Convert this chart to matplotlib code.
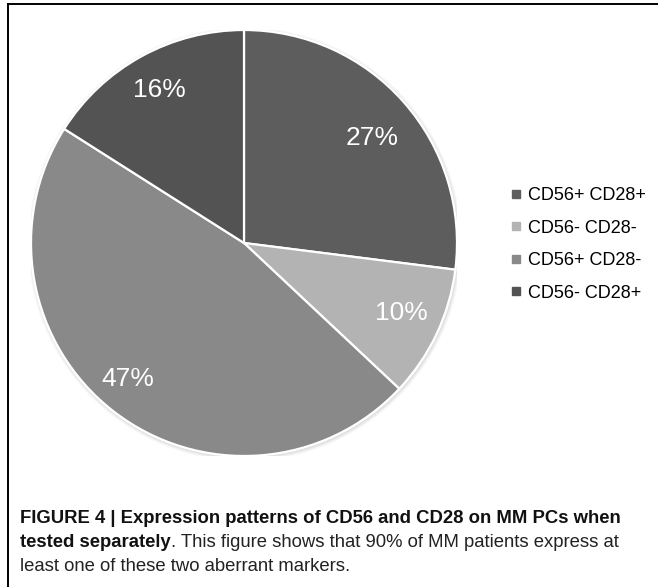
import numpy as np
import matplotlib
matplotlib.use("Agg")
import matplotlib.pyplot as plt
from matplotlib.lines import Line2D
from matplotlib.patches import Circle

labels = ["CD56+ CD28+", "CD56- CD28-", "CD56+ CD28-", "CD56- CD28+"]
shares = [27, 10, 47, 16]
colors = ["#5d5d5d", "#b3b3b3", "#898989", "#535353"]
# where each percentage sits: fraction of radius, and a small angular nudge (deg)
lab_dist = [0.78, 0.81, 0.84, 0.82]
lab_nudge = [-2.0, 1.3, -2.5, 0.0]

caption_bold1 = "FIGURE 4 | Expression patterns of CD56 and CD28 on MM PCs when"
caption_bold2 = "tested separately"
caption_rest2 = ". This figure shows that 90% of MM patients express at"
caption_line3 = "least one of these two aberrant markers."

plt.rcParams["font.family"] = ["Liberation Sans", "DejaVu Sans"]

W, H = 658, 587
fig = plt.figure(figsize=(W / 100, H / 100), dpi=100)

# pie axes: centre (244, 243) px, radius 213 px
cx, cy, R = 244, 243, 213
ax = fig.add_axes([(cx - R) / W, (H - cy - R) / H, 2 * R / W, 2 * R / H])
ax.axis("off")

# soft halo around the pie
for k, a in enumerate([0.10, 0.08, 0.05]):
    ax.add_patch(Circle((0.004, -0.006), 1.006 + 0.006 * k, color="#777777",
                        alpha=a, lw=0, zorder=0))

wedges, _ = ax.pie(shares, colors=colors, startangle=90, counterclock=False,
                   radius=1.0, wedgeprops=dict(edgecolor="white", linewidth=1.6),
                   frame=False)
ax.set_xlim(-1, 1)
ax.set_ylim(-1, 1)
ax.set_aspect("auto")

for w, s, d, n in zip(wedges, shares, lab_dist, lab_nudge):
    mid = np.deg2rad((w.theta1 + w.theta2) / 2 + n)
    ax.text(d * np.cos(mid), d * np.sin(mid), "%d%%" % s, color="white",
            fontsize=19, ha="center", va="center")

handles = [Line2D([], [], marker="s", linestyle="none", markersize=5.5,
                  markerfacecolor=c, markeredgecolor=c) for c in colors]
fig.legend(handles, labels, loc="upper left", bbox_to_anchor=(511 / W, 1 - 187 / H),
           frameon=False, fontsize=13, handlelength=0.6, handletextpad=0.35,
           labelspacing=0.86, borderpad=0, borderaxespad=0)

# frame lines (top and left)
fig.add_artist(Line2D([8 / W, 1], [1 - 4 / H, 1 - 4 / H], color="black", lw=1.4,
                      transform=fig.transFigure))
fig.add_artist(Line2D([8 / W, 8 / W], [1 - 4 / H, 0], color="black", lw=1.4,
                      transform=fig.transFigure))

# caption
cap_font = ["Liberation Sans Narrow", "Liberation Sans", "DejaVu Sans"]
fs = 13.3
x0 = 20 / W
t1 = fig.text(x0, 1 - 523 / H, caption_bold1, fontsize=fs, fontweight="bold",
              family=cap_font, ha="left", va="baseline", color="#111111")
t2 = fig.text(x0, 1 - 547 / H, caption_bold2, fontsize=fs, fontweight="bold",
              family=cap_font, ha="left", va="baseline", color="#111111")
fig.text(x0, 1 - 571 / H, caption_line3, fontsize=fs, family=cap_font,
         ha="left", va="baseline", color="#222222")
fig.canvas.draw()
bb = t2.get_window_extent()
fig.text(bb.x1 / W, 1 - 547 / H, caption_rest2, fontsize=fs, family=cap_font,
         ha="left", va="baseline", color="#222222")

fig.savefig("out.png", dpi=100)
